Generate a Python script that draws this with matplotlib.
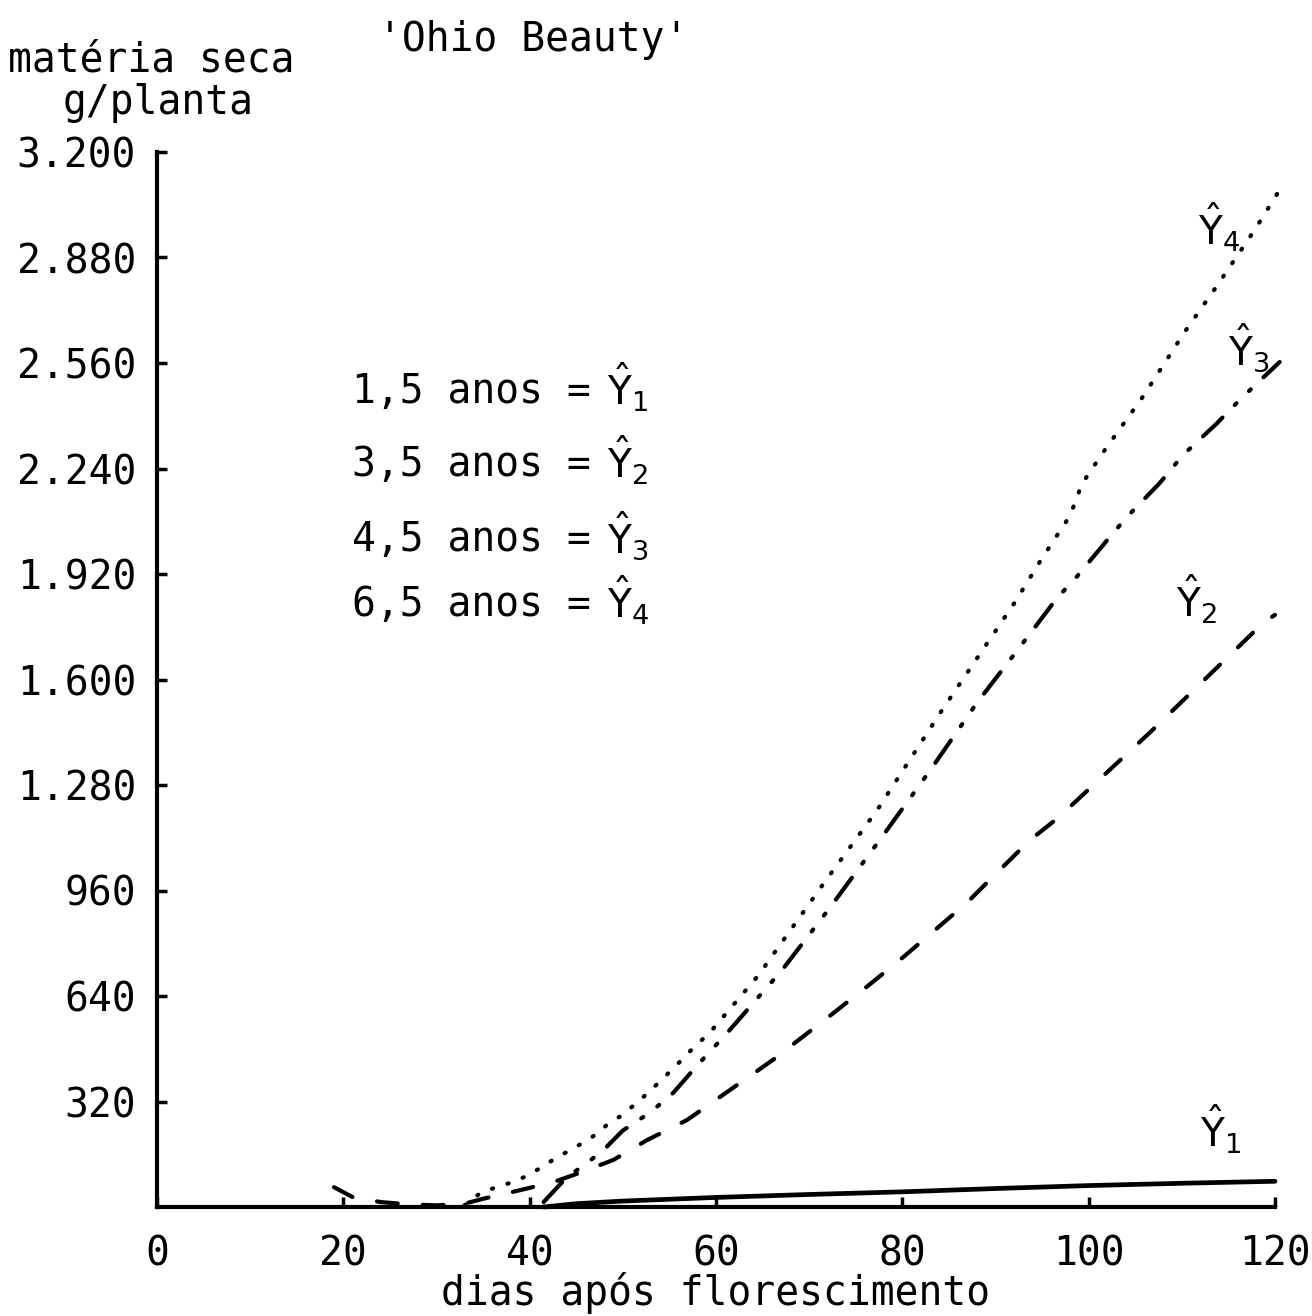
import matplotlib
matplotlib.use("Agg")
import matplotlib.pyplot as plt
from matplotlib.ticker import FixedLocator, FixedFormatter

# letras do original sao de normografo, com largura fixa
plt.rcParams['font.family'] = ['DejaVu Sans Mono', 'DejaVu Sans']
plt.rcParams['mathtext.fontset'] = 'dejavusans'

# valores (dias apos florescimento, materia seca g/planta)
y1_dias = [41.5, 45, 50, 60, 70, 80, 90, 100, 110, 120]
y1_ms = [0, 10, 18, 29, 38, 46, 56, 65, 72, 78]

y2_dias = [19, 21, 24, 27, 30, 33, 35, 37, 40, 43, 45.5, 49, 52.6, 56.9, 61.2,
           66.1, 69.3, 73, 76.8, 80.1, 83.5, 86.9, 89.7, 93.7, 96.7, 106.6, 118.7, 120]
y2_ms = [60, 30, 15, 8, 5, 10, 25, 38, 58, 80, 105, 143, 203, 264, 349,
         446, 516, 597, 682, 758, 840, 922, 1001, 1113, 1180, 1440, 1771, 1796]

y3_dias = [41.5, 44, 46, 48, 50, 53, 55.4, 58, 61.2, 67.1, 72.2, 77.8, 83, 88,
           93.2, 96.6, 98.7, 102, 104.1, 107.6, 110.1, 113.8, 116.2, 120.5]
y3_ms = [15, 91, 130, 175, 232, 288, 346, 430, 528, 719, 907, 1122, 1325, 1529,
         1720, 1847, 1911, 2023, 2093, 2195, 2280, 2378, 2448, 2563]

y4_dias = [33, 34.7, 36.5, 37.9, 39.7, 41.3, 43, 44.6, 46, 47, 48.3, 50, 52.7,
           55.8, 57, 59.4, 64.5, 71.9, 77.3, 84.4, 92.1, 95, 97.7, 98.6, 99.2,
           101.5, 105.8, 110.3, 113.6, 117.8, 120.5]
y4_ms = [5, 42, 61, 73, 94, 121, 152, 176, 200, 218, 249, 280, 346,
         431, 467, 531, 701, 995, 1204, 1513, 1835, 1968, 2084, 2138, 2190,
         2287, 2457, 2654, 2787, 2963, 3085]

x_ticks = [0, 20, 40, 60, 80, 100, 120]
y_ticks = [320, 640, 960, 1280, 1600, 1920, 2240, 2560, 2880, 3200]
y_labels = ['320', '640', '960', '1.280', '1.600', '1.920', '2.240', '2.560', '2.880', '3.200']
legenda = ['1,5 anos =', '3,5 anos =', '4,5 anos =', '6,5 anos =']

W, H = 1312, 1316
fig = plt.figure(figsize=(W / 100, H / 100), dpi=100)
ax = fig.add_axes([157 / W, 1 - 1207 / H, (1275 - 157) / W, (1207 - 152) / H])


def px(x, y):
    return x / W, 1 - y / H


fs = 28.5
lw = 3.0
ax.plot(y1_dias, y1_ms, color='black', lw=3.4, solid_capstyle='round', clip_on=False)
ax.plot(y2_dias, y2_ms, color='black', lw=lw, linestyle=(0, (5, 6)),
        dash_capstyle='round', clip_on=False)
ax.plot(y3_dias, y3_ms, color='black', lw=lw, linestyle=(0, (6.5, 4.2, 0.6, 4.2, 0.6, 4.2)),
        dash_capstyle='round', clip_on=False)
ax.plot(y4_dias, y4_ms, color='black', lw=lw, linestyle=(0, (0.3, 3.6)),
        dash_capstyle='round', clip_on=False)

ax.set_xlim(0, 120)
ax.set_ylim(0, 3200)
for s in ['top', 'right']:
    ax.spines[s].set_visible(False)
for s in ['left', 'bottom']:
    ax.spines[s].set_linewidth(3)
    ax.spines[s].set_capstyle('projecting')

ax.xaxis.set_major_locator(FixedLocator(x_ticks))
ax.yaxis.set_major_locator(FixedLocator(y_ticks))
ax.yaxis.set_major_formatter(FixedFormatter(y_labels))
ax.tick_params(axis='both', direction='in', length=7, width=2.5, labelsize=fs)
ax.tick_params(axis='y', pad=15)
ax.tick_params(axis='x', pad=20)

fig.text(*px(716, 1293), 'dias após florescimento', fontsize=fs, va='center', ha='center')
fig.text(*px(8, 60), 'matéria seca', fontsize=fs, va='center', ha='left')
fig.text(*px(63, 103), 'g/planta', fontsize=fs, va='center', ha='left')
fig.text(*px(378, 40), "'Ohio Beauty'", fontsize=fs, va='center', ha='left')

linhas_y = [392, 465, 540, 605]
for i, (txt, yy) in enumerate(zip(legenda, linhas_y)):
    fig.text(*px(352, yy), txt, fontsize=fs, va='center', ha='left')
    fig.text(*px(607, yy + 14), r'$\hat{\mathrm{Y}}_{%d}$' % (i + 1), fontsize=28,
             va='baseline', ha='left')

rotulos = [(1200, 1148, 1), (1176, 618, 2), (1228, 366, 3), (1198, 246, 4)]
for x, y, n in rotulos:
    fig.text(*px(x, y), r'$\hat{\mathrm{Y}}_{%d}$' % n, fontsize=28,
             va='baseline', ha='left')

fig.savefig('out.png', dpi=100)
